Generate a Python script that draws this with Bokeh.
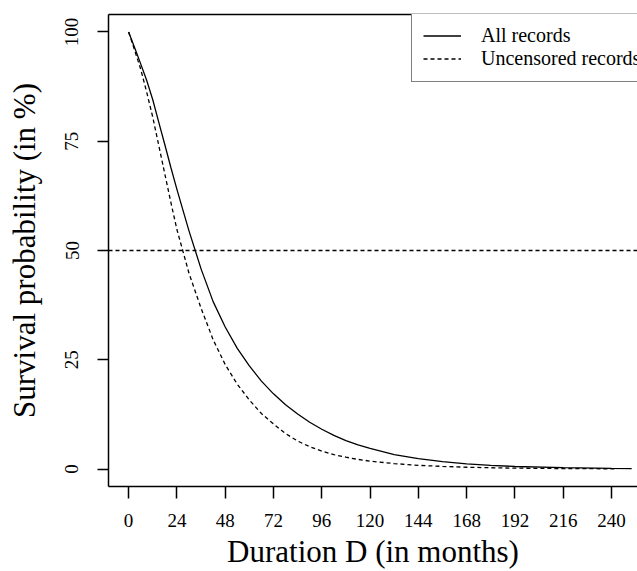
from bokeh.plotting import figure
from bokeh.models import (Span, Legend, LegendItem, FixedTicker, LinearAxis,
                          Range1d)
from bokeh.embed import file_html
from bokeh.resources import INLINE

# ---- data ----
months = [0, 3, 6, 9, 12, 15, 18, 21, 24, 30, 36, 42, 48, 54, 60, 66, 72, 78,
          84, 90, 96, 102, 108, 114, 120, 132, 144, 156, 168, 180, 192, 216,
          240, 250]
all_records = [100, 96.4, 92.7, 88.9, 84.5, 79.3, 74.2, 69.0, 64.0, 54.5, 45.8,
               38.3, 32.5, 27.6, 23.6, 20.1, 17.2, 14.7, 12.6, 10.7, 9.1, 7.7,
               6.5, 5.5, 4.7, 3.3, 2.4, 1.68, 1.18, 0.83, 0.58, 0.3, 0.15, 0.1]

unc_months = [0, 3, 6, 9, 12, 15, 18, 21, 24, 30, 36, 42, 48, 54, 60, 66, 72,
              78, 84, 90, 96, 102, 108, 114, 120, 132, 144, 156, 168, 180, 192,
              216, 243]
uncensored = [100, 95.8, 91.5, 86.2, 80.5, 74.0, 67.5, 61.0, 54.8, 44.8, 36.8,
              29.6, 23.9, 19.4, 15.8, 12.7, 10.3, 8.1, 6.4, 5.1, 4.1, 3.3, 2.7,
              2.2, 1.8, 1.25, 0.84, 0.6, 0.41, 0.29, 0.2, 0.1, 0.05]

x_ticks = [0, 24, 48, 72, 96, 120, 144, 168, 192, 216, 240]
y_ticks = [0, 25, 50, 75, 100]
median_level = 50

x_title = "Duration D (in months)"
y_title = "Survival probability (in %)"
series_names = ["All records", "Uncensored records"]

FONT = "Liberation Serif"

p = figure(width=637, height=571, output_backend="svg", toolbar_location=None,
           x_range=Range1d(-10, 252.9), y_range=Range1d(-4, 104),
           min_border_left=108, min_border_right=0, min_border_top=14,
           min_border_bottom=85, x_axis_label=x_title, y_axis_label=y_title)
p.outline_line_color = None
p.grid.visible = False
p.background_fill_color = "white"
p.border_fill_color = "white"

for ax in (p.xaxis[0], p.yaxis[0]):
    ax.axis_line_color = "black"
    ax.axis_line_width = 1.5
    ax.major_tick_line_color = "black"
    ax.major_tick_line_width = 1.5
    ax.major_tick_in = 0
    ax.minor_tick_line_color = None
    ax.major_label_text_font = FONT
    ax.major_label_text_font_size = "19px"
    ax.major_label_text_color = "black"
    ax.axis_label_text_font = FONT
    ax.axis_label_text_font_size = "31px"
    ax.axis_label_text_font_style = "normal"
    ax.axis_label_text_color = "black"

p.xaxis.ticker = FixedTicker(ticks=x_ticks)
p.xaxis.major_tick_out = 12
p.xaxis.major_label_standoff = 15
p.xaxis.axis_label_standoff = 4

p.yaxis.ticker = FixedTicker(ticks=y_ticks)
p.yaxis.major_tick_out = 11
p.yaxis.major_label_standoff = 19
p.yaxis.major_label_orientation = "vertical"
p.yaxis.axis_label_standoff = 21

# top border line of the box
top_axis = LinearAxis(ticker=FixedTicker(ticks=[]), axis_line_color="black",
                      axis_line_width=1.5, major_tick_out=0, major_tick_in=0,
                      minor_tick_out=0, minor_tick_in=0,
                      major_tick_line_color=None, minor_tick_line_color=None,
                      major_label_standoff=0, major_label_text_font_size="0px")
p.add_layout(top_axis, "above")

p.add_layout(Span(location=median_level, dimension="width", line_color="black",
                  line_width=1.3, line_dash="4 3"))

r1 = p.line(months, all_records, line_color="black", line_width=1.3)
r2 = p.line(unc_months, uncensored, line_color="black", line_width=1.3,
            line_dash="4 3")

legend = Legend(items=[LegendItem(label=series_names[0], renderers=[r1]),
                       LegendItem(label=series_names[1], renderers=[r2])],
                location=(303, 404), margin=0, padding=11, spacing=0,
                glyph_width=38, glyph_height=23, label_height=23,
                label_standoff=20, label_text_font=FONT,
                label_text_font_size="20px", label_text_color="black",
                border_line_color="black", border_line_width=1.5,
                background_fill_color="white", background_fill_alpha=1.0)
p.add_layout(legend)

open("out.html", "w").write(file_html(p, INLINE))
